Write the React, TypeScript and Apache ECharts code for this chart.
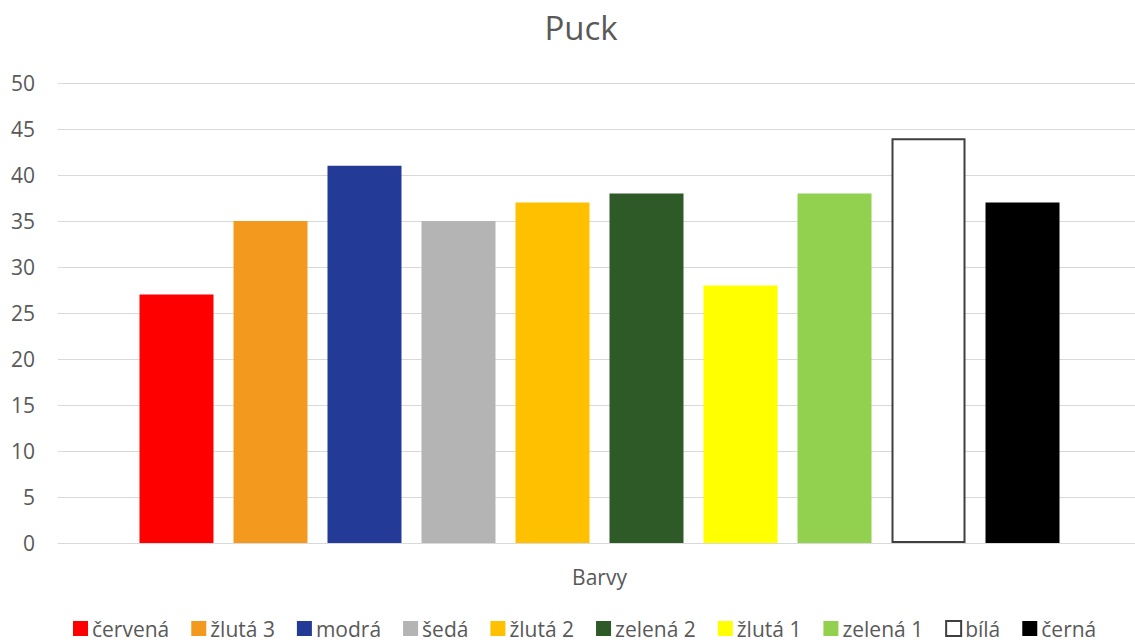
import React, { useEffect, useRef } from "react";
import * as echarts from "echarts";

const categories = ["Barvy"];
const seriesNames = [
  "červená",
  "žlutá 3",
  "modrá",
  "šedá",
  "žlutá 2",
  "zelená 2",
  "žlutá 1",
  "zelená 1",
  "bílá",
  "černá",
];
const seriesValues = [27, 35, 41, 35, 37, 38, 28, 38, 44, 37];
const seriesColors = [
  "#FF0000",
  "#F39A1E",
  "#233A96",
  "#B4B4B4",
  "#FFC000",
  "#2E5A27",
  "#FFFF00",
  "#92D050",
  "#FFFFFF",
  "#000000",
];
const yTicks = { min: 0, max: 50, interval: 5 };

const FONT = "'Open Sans', 'Liberation Sans', sans-serif";
const TEXT = "#595959";

export default function App() {
  const ref = useRef<HTMLDivElement>(null);

  useEffect(() => {
    if (!ref.current) return;
    const chart = echarts.init(ref.current, undefined, { renderer: "svg" });

    const series = seriesNames.map((name, i) => {
      const isWhite = seriesColors[i] === "#FFFFFF";
      return {
        name,
        type: "bar",
        data: [seriesValues[i]],
        barWidth: 74,
        barGap: "27.03%",
        itemStyle: {
          color: seriesColors[i],
          borderColor: isWhite ? "#3f3f3f" : seriesColors[i],
          borderWidth: isWhite ? 2 : 0,
        },
      };
    });

    chart.setOption({
      animation: false,
      backgroundColor: "#ffffff",
      title: {
        text: "Puck",
        left: 576,
        top: 6,
        textAlign: "center",
        textStyle: {
          fontFamily: FONT,
          fontSize: 33,
          fontWeight: "normal",
          color: TEXT,
        },
      },
      // the plot area runs past the visible right edge, as the gridlines do
      grid: { left: 58, top: 83, width: 1083, height: 460, containLabel: false },
      xAxis: {
        type: "category",
        data: categories,
        axisLine: { show: true, lineStyle: { color: "#d9d9d9", width: 1 } },
        axisTick: { show: false },
        axisLabel: {
          margin: 23,
          fontFamily: FONT,
          fontSize: 21,
          color: TEXT,
        },
      },
      yAxis: {
        type: "value",
        min: yTicks.min,
        max: yTicks.max,
        interval: yTicks.interval,
        axisLine: { show: false },
        axisTick: { show: false },
        splitLine: { lineStyle: { color: "#d9d9d9", width: 1 } },
        axisLabel: {
          margin: 23,
          fontFamily: FONT,
          fontSize: 21,
          color: TEXT,
        },
      },
      legend: {
        bottom: 3,
        left: 73,
        padding: 0,
        itemWidth: 15,
        itemHeight: 15,
        itemGap: 22,
        icon: "rect",
        textStyle: {
          fontFamily: FONT,
          fontSize: 21,
          lineHeight: 18,
          color: TEXT,
          padding: [0, 0, 0, -1],
        },
        data: seriesNames,
      },
      series,
    });

    return () => chart.dispose();
  }, []);

  return (
    <div
      style={{
        position: "fixed",
        left: 0,
        top: 0,
        width: 1135,
        height: 642,
        overflow: "hidden",
      }}
    >
      <div ref={ref} style={{ width: 1150, height: 642 }} />
    </div>
  );
}
